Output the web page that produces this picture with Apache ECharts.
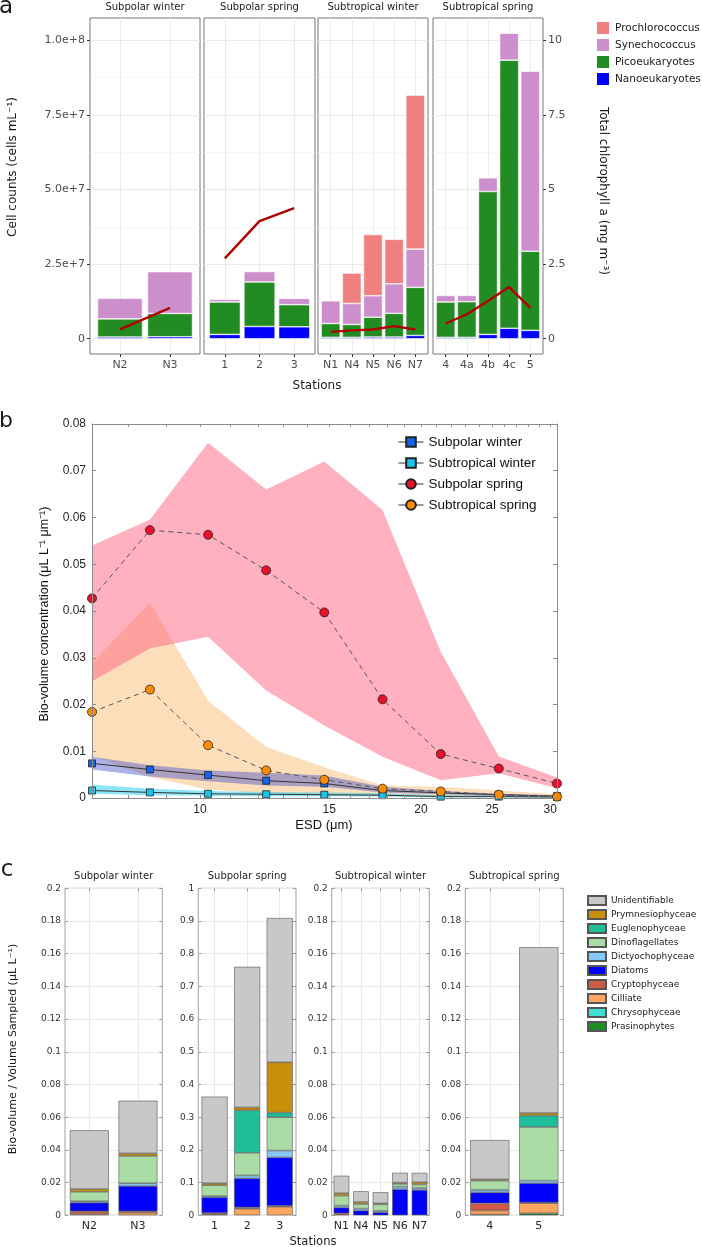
<!DOCTYPE html>
<html><head><meta charset="utf-8">
<script src="https://cdn.jsdelivr.net/npm/echarts@6/dist/echarts.min.js"></script>
<style>html,body{margin:0;padding:0;background:#fff}#c{width:702px;height:1247px}</style>
</head><body><div id="c"></div>
<script>
// ================= Panel a data =================
const facetsA = ['Subpolar winter', 'Subpolar spring', 'Subtropical winter', 'Subtropical spring'];
const facetSizeA = [2, 3, 5, 5];
const stationsA = ['N2', 'N3', '1', '2', '3', 'N1', 'N4', 'N5', 'N6', 'N7', '4', '4a', '4b', '4c', '5'];
const nanoeukaryotes = [0.56e6, 0.67e6, 1.45e6, 4.1e6, 4.0e6, 0.45e6, 0.45e6, 0.56e6, 0.56e6, 1.1e6, 0.45e6, 0.45e6, 1.45e6, 3.5e6, 2.8e6];
const picoeukaryotes = [6.1e6, 7.8e6, 10.85e6, 14.9e6, 7.4e6, 4.65e6, 4.35e6, 6.64e6, 7.94e6, 16.1e6, 11.85e6, 11.95e6, 47.85e6, 89.8e6, 26.5e6];
const synechococcus = [6.9e6, 14.0e6, 0.9e6, 3.5e6, 2.1e6, 7.6e6, 7.0e6, 7.2e6, 9.9e6, 12.8e6, 2.2e6, 2.1e6, 4.6e6, 9.0e6, 60.3e6];
const prochlorococcus = [0, 0, 0, 0, 0, 0, 10.2e6, 20.5e6, 14.9e6, 51.6e6, 0, 0, 0, 0, 0];
const chlorophyll = [0.31, 1.03, 2.69, 3.94, 4.37, 0.23, 0.28, 0.31, 0.42, 0.31, 0.51, 0.82, 1.26, 1.73, 1.03];
const cellTicks = [0, 2.5e7, 5e7, 7.5e7, 1e8];
const cellTickLabels = ['0', '2.5e+7', '5.0e+7', '7.5e+7', '1.0e+8'];
const cellMinorTicks = [1.25e7, 3.75e7, 6.25e7, 8.75e7];
const chlTicks = [0, 2.5, 5, 7.5, 10];
const chlTickLabels = ['0', '2.5', '5', '7.5', '10'];

// ================= Panel b data =================
const esd = [7.13, 8.55, 10.26, 12.31, 14.77, 17.73, 21.28, 25.53, 30.64];
const subpolarWinter = [0.0074, 0.0061, 0.0049, 0.0037, 0.0031, 0.0016, 0.0011, 0.0007, 0.0004];
const subpolarWinterLo = [0.0061, 0.0046, 0.0036, 0.0027, 0.0024, 0.0012, 0.0008, 0.0004, 0.0002];
const subpolarWinterHi = [0.0088, 0.0070, 0.0059, 0.0054, 0.0048, 0.0024, 0.0015, 0.0009, 0.0006];
const subtropicalWinter = [0.0016, 0.0012, 0.0009, 0.0008, 0.0007, 0.0006, 0.0003, 0.0003, 0.0002];
const subtropicalWinterLo = [0.0009, 0.0006, 0.0005, 0.0004, 0.0004, 0.0003, 0.0001, 0.0001, 0.0001];
const subtropicalWinterHi = [0.0029, 0.0020, 0.0015, 0.0013, 0.0012, 0.0010, 0.0006, 0.0005, 0.0004];
const subpolarSpring = [0.0427, 0.0573, 0.0563, 0.0487, 0.0397, 0.0211, 0.0094, 0.0063, 0.0031];
const subpolarSpringLo = [0.025, 0.032, 0.0345, 0.023, 0.0155, 0.0088, 0.0038, 0.0053, 0.0021];
const subpolarSpringHi = [0.054, 0.0595, 0.076, 0.066, 0.072, 0.0616, 0.0313, 0.0089, 0.0044];
const subtropicalSpring = [0.0184, 0.0232, 0.0113, 0.0059, 0.0039, 0.0020, 0.0014, 0.0007, 0.0003];
const subtropicalSpringLo = [0.009, 0.0045, 0.0018, 0.0010, 0.0006, 0.0004, 0.0003, 0.0002, 0.0001];
const subtropicalSpringHi = [0.0288, 0.0418, 0.0208, 0.0109, 0.0066, 0.0027, 0.0024, 0.0016, 0.0008];
const esdTickValues = [10, 15, 20, 25, 30];
const esdTickLabels = ['10', '15', '20', '25', '30'];
const esdMinorTicks = [8, 9, 10, 11, 12, 13, 14, 15, 16, 17, 18, 19, 20, 21, 22, 23, 24, 25, 26, 27, 28, 29, 30];

// ================= Panel c data =================
const facetsC = ['Subpolar winter', 'Subpolar spring', 'Subtropical winter', 'Subtropical spring'];
const facetSizeC = [2, 3, 5, 2];
const stationsC = ['N2', 'N3', '1', '2', '3', 'N1', 'N4', 'N5', 'N6', 'N7', '4', '5'];
const yMaxC = [0.2, 1, 0.2, 0.2];
const yIntervalC = [0.02, 0.1, 0.02, 0.02];
const prasinophytes    = [0, 0, 0, 0, 0, 0, 0, 0, 0, 0, 0.0005, 0.0012];
const chrysophyceae    = [0, 0, 0, 0, 0, 0, 0, 0, 0, 0, 0, 0];
const cilliate         = [0.0008, 0.0016, 0.003, 0.020, 0.026, 0, 0, 0, 0, 0, 0.0024, 0.0062];
const cryptophyceae    = [0.0017, 0.0009, 0.004, 0.004, 0.003, 0.0012, 0, 0, 0, 0, 0.0044, 0.0004];
const diatoms          = [0.0052, 0.0154, 0.048, 0.089, 0.148, 0.0035, 0.0029, 0.0018, 0.0159, 0.0155, 0.0067, 0.0118];
const dictyochophyceae = [0.0009, 0.0017, 0.004, 0.009, 0.021, 0.0012, 0.0012, 0.0009, 0.0016, 0.0012, 0.0015, 0.0016];
const dinoflagellates  = [0.0058, 0.0167, 0.033, 0.069, 0.102, 0.0061, 0.0028, 0.004, 0.0017, 0.0021, 0.0057, 0.0328];
const euglenophyceae   = [0, 0, 0, 0.130, 0.014, 0, 0, 0, 0, 0, 0, 0.007];
const prymnesiophyceae = [0.0017, 0.0016, 0.006, 0.009, 0.154, 0.0015, 0.0013, 0.0006, 0.0008, 0.0014, 0.0008, 0.0016];
const unidentifiable   = [0.0359, 0.0322, 0.265, 0.430, 0.441, 0.0107, 0.0065, 0.0068, 0.006, 0.0058, 0.024, 0.1014];

// ================= build =================
const FA = 'DejaVu Sans', FB = 'Liberation Sans';
const grid = [], xAxis = [], yAxis = [], series = [], graphic = [], legend = [];
function nearest(arr, v) { let b = 0; arr.forEach((a, i) => { if (Math.abs(a - v) < Math.abs(arr[b] - v)) b = i; }); return b; }
function txt(x, y, text, size, o) {
  o = o || {};
  const el = { type: 'text', x: x, y: y, silent: true, z: 100,
    style: { text: text, fontSize: size, fontFamily: o.font || FA, fill: o.color || '#1a1a1a',
      align: o.align || 'center', verticalAlign: 'middle', textAlign: o.align || 'center', textVerticalAlign: 'middle' } };
  if (o.rot != null) el.rotation = o.rot;
  graphic.push(el);
}
const G = (g) => Object.assign({ containLabel: false, outerBoundsMode: 'none', backgroundColor: 'rgba(0,0,0,0)' }, g);

// ---------- Panel a ----------
const totalsA = stationsA.map((_, i) => nanoeukaryotes[i] + picoeukaryotes[i] + synechococcus[i] + prochlorococcus[i]);
const maxA = Math.max.apply(null, totalsA);
const yMinA = -0.05 * maxA, yMaxA = maxA * 1.05;
const chlFactor = 1e7;
const layoutA = [[90, 110], [204, 111], [318, 110], [433, 110]];
const speciesA = [
  { name: 'Nanoeukaryotes', data: nanoeukaryotes, color: '#0000FF' },
  { name: 'Picoeukaryotes', data: picoeukaryotes, color: '#228B22' },
  { name: 'Synechococcus', data: synechococcus, color: '#CC8FCC' },
  { name: 'Prochlorococcus', data: prochlorococcus, color: '#F08080' }
];
let off = 0;
facetsA.forEach((fname, f) => {
  const n = facetSizeA[f], L = layoutA[f][0], W = layoutA[f][1];
  const names = stationsA.slice(off, off + n);
  const pos = names.map((_, i) => i + 1);
  const gi = grid.length;
  grid.push(G({ left: L, top: 18, width: W, height: 336, show: true, borderColor: '#777', borderWidth: 1 }));
  const xi = xAxis.length;
  xAxis.push({ gridIndex: gi, type: 'value', min: 0.4, max: n + 0.6, position: 'bottom',
    axisLine: { show: false, onZero: false },
    axisTick: { show: true, inside: false, length: 3, customValues: pos, lineStyle: { color: '#333' } },
    axisLabel: { customValues: pos, formatter: v => names[Math.round(v) - 1], fontSize: 11, fontFamily: FA, color: '#4d4d4d', margin: 6 },
    splitLine: { show: true, lineStyle: { color: '#ebebeb', width: 1 } } });
  const yi = yAxis.length;
  yAxis.push({ gridIndex: gi, type: 'value', min: yMinA, max: yMaxA, position: 'left',
    axisLine: { show: false, onZero: false },
    axisTick: { show: f === 0, inside: false, length: 3, customValues: cellTicks, lineStyle: { color: '#333' } },
    axisLabel: { show: f === 0, customValues: cellTicks, formatter: v => cellTickLabels[nearest(cellTicks, v)], fontSize: 11, fontFamily: FA, color: '#4d4d4d', margin: 5 },
    splitLine: { show: true, lineStyle: { color: '#ebebeb', width: 1 } } });
  yAxis.push({ gridIndex: gi, type: 'value', min: yMinA, max: yMaxA, position: 'left',
    axisLine: { show: false, onZero: false },
    axisTick: { show: false, customValues: cellMinorTicks },
    axisLabel: { show: false, customValues: cellMinorTicks },
    splitLine: { show: true, lineStyle: { color: '#f3f3f3', width: 0.7 } } });
  yAxis.push({ gridIndex: gi, type: 'value', min: yMinA / chlFactor, max: yMaxA / chlFactor, position: 'right',
    axisLine: { show: false, onZero: false },
    axisTick: { show: f === 3, inside: false, length: 3, customValues: chlTicks, lineStyle: { color: '#333' } },
    axisLabel: { show: f === 3, customValues: chlTicks, formatter: v => chlTickLabels[nearest(chlTicks, v)], fontSize: 11, fontFamily: FA, color: '#4d4d4d', margin: 5 },
    splitLine: { show: false } });
  series.push({ type: 'line', name: 'chl' + f, xAxisIndex: xi, yAxisIndex: yi + 2,
    data: pos.map((p, i) => [p, chlorophyll[off + i]]), symbol: 'none', silent: true,
    lineStyle: { color: '#B00000', width: 2.4 }, z: 5 });
  const unit = W / (n + 0.2);
  const gbi = grid.length;
  grid.push(G({ left: L + 0.1 * unit, top: 18, width: n * unit, height: 336, show: false }));
  const xbi = xAxis.length;
  xAxis.push({ gridIndex: gbi, type: 'category', data: names, show: false });
  const ybi = yAxis.length;
  yAxis.push({ gridIndex: gbi, type: 'value', min: yMinA, max: yMaxA, show: false });
  speciesA.forEach(sp => {
    series.push({ type: 'bar', name: sp.name, xAxisIndex: xbi, yAxisIndex: ybi, stack: 'cells' + f, barCategoryGap: '10%',
      data: names.map((_, i) => sp.data[off + i] || null),
      itemStyle: { color: sp.color, borderColor: '#fff', borderWidth: 0.6 } });
  });
  txt(L + W / 2, 7.5, fname, 10);
  off += n;
});
legend.push({ data: ['Prochlorococcus', 'Synechococcus', 'Picoeukaryotes', 'Nanoeukaryotes'], orient: 'vertical',
  left: 590, top: 15, itemWidth: 14, itemHeight: 14, itemGap: 1, itemTextGap: 3, icon: 'rect', selectedMode: false,
  textStyle: { fontSize: 10.5, fontFamily: FA, color: '#1a1a1a' } });
txt(13, 167, 'Cell counts (cells mL⁻¹)', 12, { rot: Math.PI / 2 });
txt(603, 191, 'Total chlorophyll a (mg m⁻³)', 12, { rot: -Math.PI / 2 });
txt(317, 386, 'Stations', 12);
txt(6, 7, 'a', 23);

// ---------- Panel b ----------
const gb = grid.length;
grid.push(G({ left: 92, top: 424, width: 465, height: 374, show: false }));
const xLog = xAxis.length;
xAxis.push({ gridIndex: gb, type: 'log', logBase: 10, min: esd[0], max: esd[esd.length - 1], show: false });
const lgMin = Math.log10(esd[0]), lgMax = Math.log10(esd[esd.length - 1]);
xAxis.push({ gridIndex: gb, type: 'value', min: lgMin, max: lgMax, position: 'bottom', z: 10,
  axisLine: { show: true, onZero: false, lineStyle: { color: '#8c8c8c', width: 1 } },
  axisTick: { show: true, inside: true, length: 3, customValues: esdMinorTicks.map(Math.log10), lineStyle: { color: '#8c8c8c' } },
  axisLabel: { customValues: esdTickValues.map(Math.log10), formatter: v => esdTickLabels[nearest(esdTickValues.map(Math.log10), v)], fontSize: 12, fontFamily: FB, color: '#262626', margin: 6 },
  splitLine: { show: false } });
xAxis.push({ gridIndex: gb, type: 'value', min: lgMin, max: lgMax, position: 'top', z: 10,
  axisLine: { show: true, onZero: false, lineStyle: { color: '#8c8c8c', width: 1 } },
  axisTick: { show: true, inside: true, length: 3, customValues: esdMinorTicks.map(Math.log10), lineStyle: { color: '#8c8c8c' } },
  axisLabel: { show: false }, splitLine: { show: false } });
const yB = yAxis.length;
yAxis.push({ gridIndex: gb, type: 'value', min: 0, max: 0.08, interval: 0.01, position: 'left', z: 10,
  axisLine: { show: true, onZero: false, lineStyle: { color: '#8c8c8c', width: 1 } },
  axisTick: { show: true, inside: true, length: 4, lineStyle: { color: '#8c8c8c' } },
  axisLabel: { fontSize: 12, fontFamily: FB, color: '#262626', margin: 6 },
  splitLine: { show: false } });
yAxis.push({ gridIndex: gb, type: 'value', min: 0, max: 0.08, interval: 0.01, position: 'right', z: 10,
  axisLine: { show: true, onZero: false, lineStyle: { color: '#8c8c8c', width: 1 } },
  axisTick: { show: true, inside: true, length: 4, lineStyle: { color: '#8c8c8c' } },
  axisLabel: { show: false }, splitLine: { show: false } });
function band(key, lo, hi, color) {
  series.push({ type: 'custom', name: key, xAxisIndex: xLog, yAxisIndex: yB, silent: true, z: 1,
    data: esd.map((x, i) => [x, lo[i], hi[i]]),
    encode: { x: 0, y: [1, 2] },
    renderItem: function (params, api) {
      if (params.dataIndex !== 0) return null;
      const pts = [];
      for (let i = 0; i < esd.length; i++) pts.push(api.coord([esd[i], hi[i]]));
      for (let i = esd.length - 1; i >= 0; i--) pts.push(api.coord([esd[i], lo[i]]));
      return { type: 'polygon', shape: { points: pts }, style: { fill: color } };
    } });
}
band('bandSS', subtropicalSpringLo, subtropicalSpringHi, 'rgba(252,190,120,0.5)');
band('bandPS', subpolarSpringLo, subpolarSpringHi, 'rgba(255,100,130,0.5)');
band('bandPW', subpolarWinterLo, subpolarWinterHi, 'rgba(45,65,200,0.4)');
band('bandTW', subtropicalWinterLo, subtropicalWinterHi, 'rgba(0,200,240,0.45)');
function mline(name, vals, sym, size, color, dashed) {
  series.push({ type: 'line', name: name, xAxisIndex: xLog, yAxisIndex: yB,
    data: esd.map((x, i) => [x, vals[i]]), symbol: sym, symbolSize: size, showSymbol: true,
    lineStyle: { color: dashed ? '#555' : '#333', width: 1, type: dashed ? [5, 4] : 'solid' },
    itemStyle: { color: color, borderColor: '#222', borderWidth: 0.8 }, z: 4 });
}
mline('Subpolar winter', subpolarWinter, 'rect', 7, '#1464F0', false);
mline('Subtropical winter', subtropicalWinter, 'rect', 7, '#18C4EE', false);
mline('Subpolar spring', subpolarSpring, 'circle', 9, '#E8102A', true);
mline('Subtropical spring', subtropicalSpring, 'circle', 9, '#FF8C00', true);
legend.push({ data: ['Subpolar winter', 'Subtropical winter', 'Subpolar spring', 'Subtropical spring'], orient: 'vertical',
  left: 393, top: 430, itemWidth: 25, itemHeight: 12, itemGap: 7, selectedMode: false,
  lineStyle: { type: 'solid', color: '#333', width: 1 },
  textStyle: { fontSize: 13.5, fontFamily: FB, color: '#111' } });
txt(45, 614, 'Bio-volume concentration (μL L⁻¹ μm⁻¹)', 12.5, { rot: Math.PI / 2, font: FB, color: '#111' });
txt(324, 825, 'ESD (μm)', 13, { font: FB, color: '#111' });
txt(6, 421, 'b', 22);

// ---------- Panel c ----------
const classesC = [
  { name: 'Prasinophytes', data: prasinophytes, color: '#1E8C23' },
  { name: 'Chrysophyceae', data: chrysophyceae, color: '#40E0D0' },
  { name: 'Cilliate', data: cilliate, color: '#FFA55F' },
  { name: 'Cryptophyceae', data: cryptophyceae, color: '#CD5A46' },
  { name: 'Diatoms', data: diatoms, color: '#0000FF' },
  { name: 'Dictyochophyceae', data: dictyochophyceae, color: '#87C8FA' },
  { name: 'Dinoflagellates', data: dinoflagellates, color: '#AADDA5' },
  { name: 'Euglenophyceae', data: euglenophyceae, color: '#1EBE9B' },
  { name: 'Prymnesiophyceae', data: prymnesiophyceae, color: '#C8900A' },
  { name: 'Unidentifiable', data: unidentifiable, color: '#C8C8C8' }
];
const layoutC = [[65, 97.3], [198.3, 97.7], [331.7, 97.6], [465.3, 98]];
off = 0;
facetsC.forEach((fname, f) => {
  const n = facetSizeC[f], L = layoutC[f][0], W = layoutC[f][1];
  const names = stationsC.slice(off, off + n);
  const pos = names.map((_, i) => i + 1);
  const gi = grid.length;
  grid.push(G({ left: L, top: 888.3, width: W, height: 327, show: true, borderColor: '#a0a0a0', borderWidth: 1 }));
  const xi = xAxis.length;
  xAxis.push({ gridIndex: gi, type: 'category', data: names, position: 'bottom',
    axisLine: { show: false, onZero: false },
    axisTick: { show: true, inside: true, alignWithLabel: true, length: 3, lineStyle: { color: '#999' } },
    axisLabel: { interval: 0, hideOverlap: false, fontSize: 11, fontFamily: FA, color: '#262626', margin: 5 },
    splitLine: { show: false } });
  xAxis.push({ gridIndex: gi, type: 'value', min: 0.5, max: n + 0.5, position: 'top',
    axisLine: { show: false, onZero: false },
    axisTick: { show: true, inside: true, length: 3, customValues: pos, lineStyle: { color: '#999' } },
    axisLabel: { show: false, customValues: pos },
    splitLine: { show: true, lineStyle: { color: '#e9e9e9', width: 1 } } });
  const yi = yAxis.length;
  yAxis.push({ gridIndex: gi, type: 'value', min: 0, max: yMaxC[f], interval: yIntervalC[f], position: 'left',
    axisLine: { show: false, onZero: false },
    axisTick: { show: true, inside: true, length: 3, lineStyle: { color: '#999' } },
    axisLabel: { fontSize: 9, fontFamily: FA, color: '#333', margin: 4 },
    splitLine: { show: true, lineStyle: { color: '#e9e9e9', width: 1 } } });
  yAxis.push({ gridIndex: gi, type: 'value', min: 0, max: yMaxC[f], interval: yIntervalC[f], position: 'right',
    axisLine: { show: false, onZero: false },
    axisTick: { show: true, inside: true, length: 3, lineStyle: { color: '#999' } },
    axisLabel: { show: false }, splitLine: { show: false } });
  classesC.forEach(cl => {
    series.push({ type: 'bar', name: cl.name, xAxisIndex: xi, yAxisIndex: yi, stack: 'bio' + f, barCategoryGap: '20%',
      data: names.map((_, i) => cl.data[off + i] || null),
      itemStyle: { color: cl.color, borderColor: '#555', borderWidth: 0.6 } });
  });
  txt(L + W / 2, 876, fname, 10, { color: '#262626' });
  off += n;
});
legend.push({ data: classesC.map(c => c.name).reverse(), orient: 'vertical',
  left: 582, top: 890, itemWidth: 18, itemHeight: 9, itemGap: 3, itemTextGap: 4, icon: 'rect', selectedMode: false,
  textStyle: { fontSize: 9, fontFamily: FA, color: '#1a1a1a' } });
txt(13, 1049, 'Bio-volume / Volume Sampled (μL L⁻¹)', 11, { rot: Math.PI / 2 });
txt(313, 1242, 'Stations', 11.5);
txt(7, 870, 'c', 23);

const chart = echarts.init(document.getElementById('c'), null, { renderer: 'canvas', width: 702, height: 1247 });
chart.setOption({
  animation: false,
  backgroundColor: '#ffffff',
  textStyle: { fontFamily: FA },
  grid: grid, xAxis: xAxis, yAxis: yAxis, series: series, legend: legend, graphic: graphic,
  tooltip: { show: false }
});
</script></body></html>
